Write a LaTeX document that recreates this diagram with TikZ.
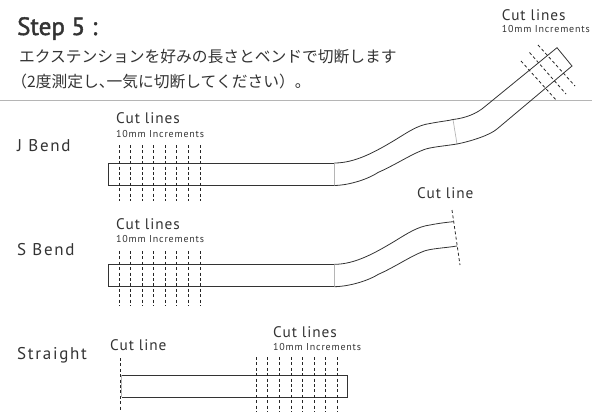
\documentclass[tikz,border=0pt]{standalone}
\usepackage{fontspec}
\setmainfont{PT Sans}
\newfontfamily\titlefont[FakeBold=1.8]{PT Sans}
\newfontfamily\labfont[LetterSpace=10]{PT Sans}
\newfontfamily\cutfont[LetterSpace=6]{PT Sans}
\newfontfamily\incfont[LetterSpace=8]{PT Sans}
\newfontfamily\jpfont{Noto Sans CJK JP}
\definecolor{ink}{HTML}{333333}
\definecolor{rulegray}{HTML}{B5B5B5}
\tikzset{
 tube/.style={draw=ink,line width=0.8pt,line join=miter},
 joint/.style={draw=rulegray,line width=0.7pt},
 cutmark/.style={draw=black!85,line width=0.8pt,dash pattern=on 3pt off 2.4pt},
 lab/.style={anchor=base west,inner sep=0pt,text=ink,font=\labfont\fontsize{17}{18}\selectfont},
 small/.style={anchor=base west,inner sep=0pt,text=ink,font=\incfont\fontsize{10}{11}\selectfont},
 cuttext/.style={anchor=base west,inner sep=0pt,text=ink,font=\cutfont\fontsize{15.3}{16}\selectfont},
 jptext/.style={anchor=base west,inner sep=0pt,text=ink,font=\jpfont\fontsize{15.75}{17}\selectfont},
}
\begin{document}
\begin{tikzpicture}[x=1pt,y=-1pt]
\useasboundingbox (0,0) rectangle (592,412);
\node[anchor=base west,inner sep=0pt,text=ink,font=\titlefont\fontsize{25}{27}\selectfont] (title) at (17,35) {Step 5 :};
\node[jptext] (l1) at (19,63) {エクステンションを好みの長さとベンドで切断します};
\node[jptext] (l2) at (19,88) {\hspace{-0.5em}（2度測定し、\hspace{-0.5em}一気に切断してください）。};
\coordinate (ruleL) at (0,100);
\coordinate (ruleR) at (592,100);
\draw[draw=rulegray,line width=0.5pt] (ruleL) -- (ruleR);
% labels
\node[lab] (jb) at (17,151.7) {J Bend};
\node[lab] (sb) at (17,255) {S Bend};
\node[lab] (st) at (17,359) {Straight};
\node[cuttext] (ca) at (116,124) {Cut lines};
\node[small] (ia) at (116,137.3) {10mm Increments};
\node[cuttext] (cb) at (116,229) {Cut lines};
\node[small] (ib) at (116,242) {10mm Increments};
\node[cuttext] (cc) at (273,337.5) {Cut lines};
\node[small] (ic) at (273,350) {10mm Increments};
\node[cuttext] (cd) at (501.7,20.7) {Cut lines};
\node[small] (id) at (501.7,32.7) {10mm Increments};
\node[cuttext] (ce) at (110,350) {Cut line};
\node[cuttext] (cf) at (417,198.3) {Cut line};
% J bend
\coordinate (ja) at (334.5,163);
\coordinate (jb2) at (334.5,185.5);
\coordinate (jc) at (453,119.5);
\coordinate (jd) at (457,144);
\draw[tube] (ja) -- (108.5,163) -- (108.5,185.5) -- (jb2);
\draw[joint] (ja) -- (jb2);
\draw[joint] (jc) -- (jd);
\draw[tube] (ja) .. controls (355,163) and (375,152) .. (395,140) .. controls (408,132) and (418,125) .. (430,123.5) .. controls (440,121.5) and (450,120.5) .. (jc) .. controls (466,118) and (477,113.5) .. (485,106.5) -- (557,47.7) -- (572,66) -- (497,129) .. controls (490,135) and (472,141) .. (jd) .. controls (445,146) and (430,147) .. (423,150) .. controls (410,155) and (395,165) .. (378,172.5) .. controls (365,181) and (345,185.5) .. (jb2);
\foreach \x in {119.3,130.7,142.1,153.6,165,176.5,188,200}{\draw[cutmark] (\x,145) -- (\x,201);}
\draw[cutmark] (538,45) -- (575,86);
\draw[cutmark] (529.5,52.5) -- (566,94);
\draw[cutmark] (521,61) -- (557,101);
% S bend
\coordinate (sa) at (334.5,264.3);
\coordinate (sb2) at (334.5,286.7);
\coordinate (se) at (453,221.7);
\coordinate (sf) at (457,246);
\draw[tube] (sa) -- (108.5,264.3) -- (108.5,286.7) -- (sb2);
\draw[joint] (sa) -- (sb2);
\draw[tube] (sa) .. controls (355,264.3) and (375,253) .. (395,241) .. controls (408,233) and (418,226.5) .. (430,225) .. controls (440,223) and (450,222) .. (se);
\draw[tube] (sf) .. controls (445,248) and (430,248.5) .. (423,251.5) .. controls (410,256.5) and (395,267) .. (378,274.5) .. controls (365,282.5) and (345,286.7) .. (sb2);
\foreach \x in {119.3,130.7,142.1,153.6,165,176.5,188,200}{\draw[cutmark] (\x,251) -- (\x,306);}
\coordinate (sc1) at (452,210);
\coordinate (sc2) at (460,265);
\draw[cutmark] (sc1) -- (sc2);
% Straight
\draw[tube] (121.5,375) -- (347.7,375) -- (347.7,397.3) -- (121.5,397.3);
\draw[joint] (121.5,375) -- (121.5,397.3);
\coordinate (tc1) at (120.7,358);
\coordinate (tc2) at (120.7,412);
\draw[cutmark] (tc1) -- (tc2);
\foreach \x in {256.3,267.8,279.4,291,302.5,314,325.5,337}{\draw[cutmark] (\x,357) -- (\x,412);}
\end{tikzpicture}
\end{document}
